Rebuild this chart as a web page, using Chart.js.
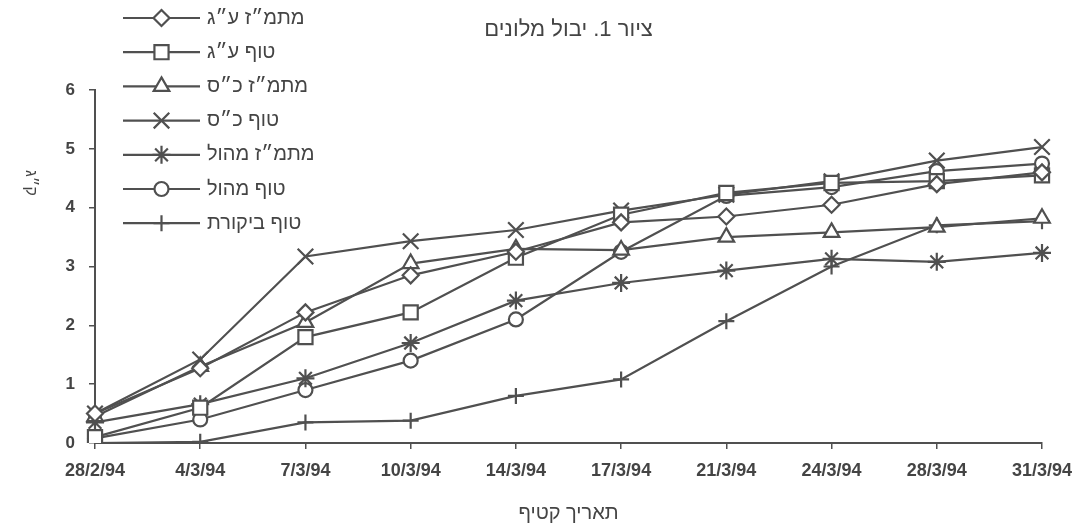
<!DOCTYPE html>
<html lang="he">
<head>
<meta charset="utf-8">
<title>ציור 1. יבול מלונים</title>
<script src="https://cdn.jsdelivr.net/npm/chart.js@4.4.1/dist/chart.umd.min.js"></script>
<style>
  html, body { margin: 0; padding: 0; background: #fff; }
  #wrap { width: 1084px; height: 529px; position: relative; }
</style>
</head>
<body>
<div id="wrap"><canvas id="yield-chart"></canvas></div>
<script>
// תאריכי קטיף (ציר X)
var harvestDates = ['28/2/94', '4/3/94', '7/3/94', '10/3/94', '14/3/94', '17/3/94', '21/3/94', '24/3/94', '28/3/94', '31/3/94'];
var yTicks = [0, 1, 2, 3, 4, 5, 6];

// יבול מצטבר לכל טיפול, נקרא מהציור
var matmazAg   = [0.50, 1.27, 2.22, 2.85, 3.25, 3.75, 3.85, 4.05, 4.40, 4.60];
var tofAg      = [0.10, 0.60, 1.80, 2.22, 3.15, 3.88, 4.25, 4.42, 4.45, 4.55];
var matmazKs   = [0.45, 1.30, 2.05, 3.05, 3.30, 3.28, 3.50, 3.58, 3.67, 3.82];
var tofKs      = [0.50, 1.42, 3.17, 3.43, 3.62, 3.95, 4.22, 4.45, 4.80, 5.03];
var matmazMahul = [0.35, 0.66, 1.10, 1.70, 2.42, 2.72, 2.93, 3.13, 3.08, 3.23];
var tofMahul   = [0.08, 0.40, 0.90, 1.40, 2.10, 3.25, 4.20, 4.35, 4.62, 4.75];
var tofControl = [0.00, 0.02, 0.35, 0.38, 0.80, 1.08, 2.07, 3.00, 3.70, 3.77];

var seriesLabels = ['מתמ״ז ע״ג', 'טוף ע״ג', 'מתמ״ז כ״ס', 'טוף כ״ס', 'מתמ״ז מהול', 'טוף מהול', 'טוף ביקורת'];
var seriesValues = [matmazAg, tofAg, matmazKs, tofKs, matmazMahul, tofMahul, tofControl];
var seriesMarkers = ['rectRot', 'rect', 'triangle', 'crossRot', 'star', 'circle', 'cross'];
var seriesRadius = [8, 10, 9, 11, 9, 7, 8];

var INK = '#505050';
var TEXT = '#444444';
var FONT = "'Liberation Sans', 'DejaVu Sans', Arial, sans-serif";

var datasets = seriesLabels.map(function (name, i) {
  return {
    label: name,
    data: seriesValues[i],
    borderColor: INK,
    borderWidth: 2.2,
    backgroundColor: '#ffffff',
    pointStyle: seriesMarkers[i],
    pointRadius: seriesRadius[i],
    pointBorderColor: INK,
    pointBackgroundColor: '#ffffff',
    pointBorderWidth: 2.2,
    tension: 0,
    fill: false
  };
});

// כותרת ומקרא בסגנון הציור המקורי (קו + סמן + טקסט)
var paperDecor = {
  id: 'paperDecor',
  afterDraw: function (chart) {
    var ctx = chart.ctx;
    var area = chart.chartArea;
    ctx.save();

    ctx.fillStyle = TEXT;
    ctx.font = '22px ' + FONT;
    ctx.textAlign = 'center';
    ctx.textBaseline = 'middle';
    ctx.fillText('ציור 1. יבול מלונים', (area.left + area.right) / 2, 30);

    // יחידות ציר Y
    ctx.save();
    ctx.translate(30, 183);
    ctx.rotate(Math.PI / 2);
    ctx.font = '16px ' + FONT;
    ctx.fillText('ק״ג', 0, 0);
    ctx.restore();

    var x0 = area.left + 28, x1 = area.left + 105;
    chart.data.datasets.forEach(function (ds, i) {
      var y = 18 + i * 34.2;
      ctx.strokeStyle = INK;
      ctx.lineWidth = 2.2;
      ctx.beginPath();
      ctx.moveTo(x0, y);
      ctx.lineTo(x1, y);
      ctx.stroke();
      ctx.fillStyle = '#ffffff';
      ctx.strokeStyle = INK;
      Chart.helpers.drawPoint(ctx, {
        pointStyle: ds.pointStyle,
        radius: ds.pointRadius,
        rotation: 0,
        borderWidth: 2.2
      }, (x0 + x1) / 2, y);
      ctx.fillStyle = TEXT;
      ctx.font = '20px ' + FONT;
      ctx.textAlign = 'left';
      ctx.fillText(ds.label, x1 + 7, y);
    });
    ctx.restore();
  }
};

new Chart(document.getElementById('yield-chart'), {
  type: 'line',
  data: { labels: harvestDates, datasets: datasets },
  plugins: [paperDecor],
  options: {
    responsive: true,
    maintainAspectRatio: false,
    animation: false,
    layout: { padding: { top: 90, right: 42, left: 0, bottom: 0 } },
    plugins: {
      legend: { display: false },
      title: { display: false },
      tooltip: { enabled: false }
    },
    scales: {
      x: {
        offset: false,
        afterFit: function (scale) { scale.height = 86; },
        grid: { drawOnChartArea: false, color: INK, tickLength: 6, lineWidth: 1.5 },
        border: { color: INK, width: 2 },
        ticks: { color: TEXT, font: { family: FONT, size: 18, weight: 'bold' }, padding: 11, maxRotation: 0, autoSkip: false },
        title: { display: true, text: 'תאריך קטיף', color: TEXT, font: { family: FONT, size: 20 }, padding: { top: 7 } }
      },
      y: {
        min: yTicks[0],
        max: yTicks[yTicks.length - 1],
        afterFit: function (scale) { scale.width = 95; },
        afterBuildTicks: function (scale) {
          scale.ticks = yTicks.map(function (v) { return { value: v }; });
        },
        grid: { drawOnChartArea: false, color: INK, tickLength: 6, lineWidth: 1.5 },
        border: { color: INK, width: 2 },
        ticks: { color: TEXT, font: { family: FONT, size: 17, weight: 'bold' }, padding: 14 }
      }
    }
  }
});
</script>
</body>
</html>
